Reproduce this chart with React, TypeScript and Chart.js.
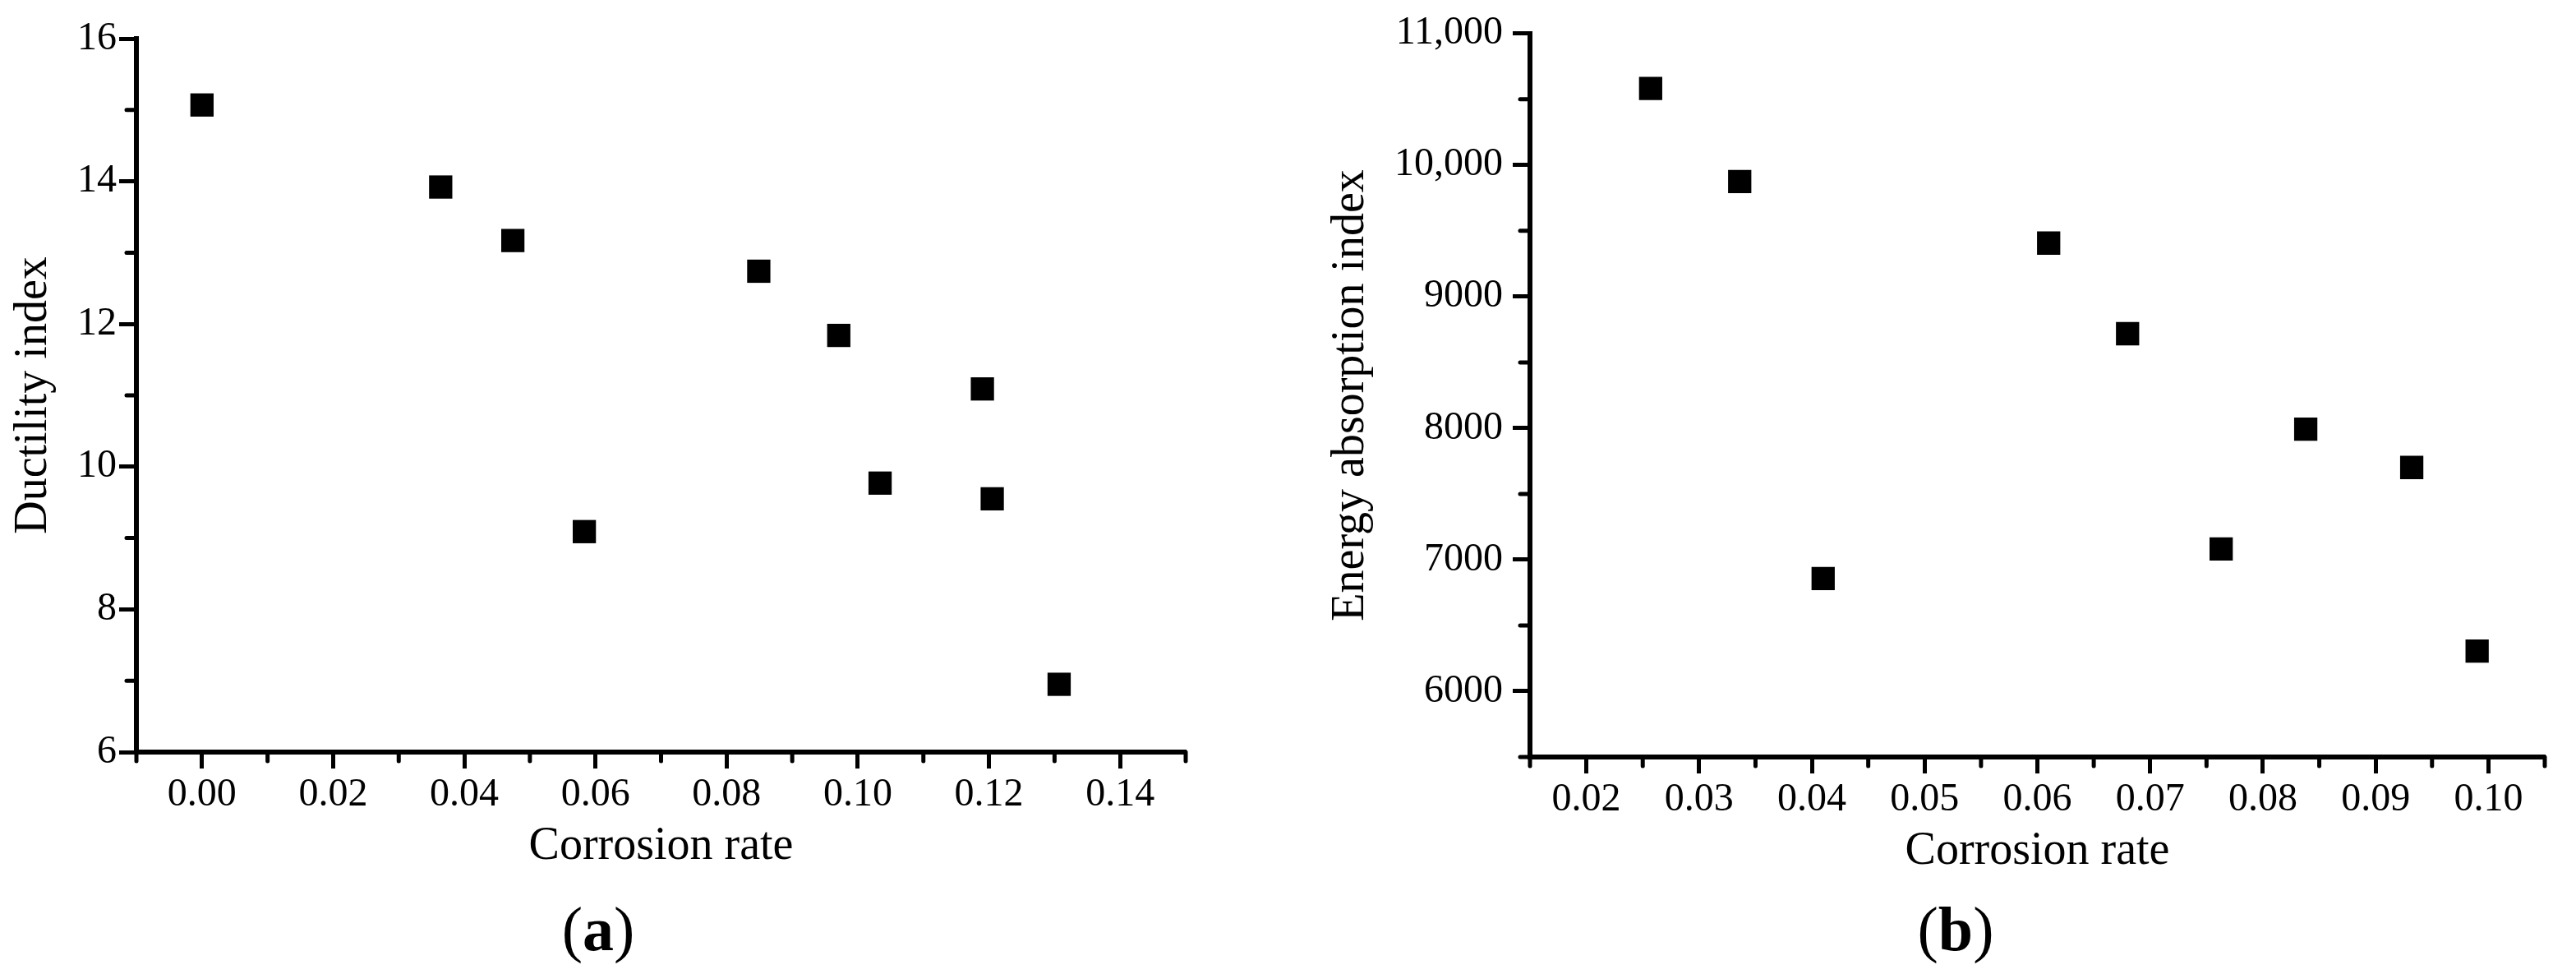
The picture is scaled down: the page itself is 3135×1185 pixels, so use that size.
import React, { useEffect, useRef } from "react";
import { Chart, registerables } from "chart.js";

Chart.register(...registerables);

// ---------- Data: panel (a) ----------
const rateA = [0, 0.0364, 0.0474, 0.0583, 0.0849, 0.0971, 0.1034, 0.119, 0.1205, 0.1307];
const ductility = [15.07, 13.92, 13.17, 9.09, 12.74, 11.84, 9.77, 11.09, 9.55, 6.95];
const xTicksA = [0, 0.02, 0.04, 0.06, 0.08, 0.1, 0.12, 0.14];
const xMinorA = [-0.01, 0.01, 0.03, 0.05, 0.07, 0.09, 0.11, 0.13, 0.15];
const yTicksA = [6, 8, 10, 12, 14, 16];
const yMinorA = [7, 9, 11, 13, 15];

// ---------- Data: panel (b) ----------
const rateB = [0.0257, 0.0336, 0.041, 0.061, 0.068, 0.0763, 0.0838, 0.0932, 0.099];
const energy = [10583, 9875, 6857, 9407, 8718, 7082, 7992, 7701, 6305];
const xTicksB = [0.02, 0.03, 0.04, 0.05, 0.06, 0.07, 0.08, 0.09, 0.1];
const xMinorB = [0.015, 0.025, 0.035, 0.045, 0.055, 0.065, 0.075, 0.085, 0.095, 0.105];
const yTicksB = [6000, 7000, 8000, 9000, 10000, 11000];
const yMinorB = [5500, 6500, 7500, 8500, 9500, 10500];

const FONT = "'Liberation Serif', 'Times New Roman', serif";

function minorPlugin(xs: number[], ys: number[]) {
  return {
    id: "minorTicks",
    afterDraw(chart: any) {
      const { ctx } = chart;
      const sx = chart.scales.x;
      const sy = chart.scales.y;
      ctx.save();
      ctx.strokeStyle = "#000";
      ctx.lineWidth = 5;
      ctx.lineCap = "round";
      for (const v of xs) {
        const px = sx.getPixelForValue(v);
        ctx.beginPath();
        ctx.moveTo(px, sx.top);
        ctx.lineTo(px, sx.top + 11);
        ctx.stroke();
      }
      for (const v of ys) {
        const py = sy.getPixelForValue(v);
        ctx.beginPath();
        ctx.moveTo(sy.right, py);
        ctx.lineTo(sy.right - 12, py);
        ctx.stroke();
      }
      ctx.restore();
    },
  };
}

interface PanelCfg {
  xs: number[];
  ys: number[];
  xMin: number;
  xMax: number;
  yMin: number;
  yMax: number;
  xTicks: number[];
  yTicks: number[];
  xMinor: number[];
  yMinor: number[];
  yLabel: string;
  yFmt: (v: number) => string;
  yAxisWidth: number;
  xAxisHeight: number;
  padTop: number;
  padRight: number;
  yTickPad: number;
  yTitlePad: number;
  xTitlePadBottom: number;
}

function Panel({ cfg, width, left }: { cfg: PanelCfg; width: number; left: number }) {
  const ref = useRef<HTMLCanvasElement>(null);
  useEffect(() => {
    if (!ref.current) return;
    const chart = new Chart(ref.current, {
      type: "scatter",
      data: {
        datasets: [
          {
            data: cfg.xs.map((x, i) => ({ x, y: cfg.ys[i] })),
            pointStyle: "rect",
            pointRadius: 20,
            pointHoverRadius: 20,
            backgroundColor: "#000",
            borderColor: "#000",
            borderWidth: 0,
          },
        ],
      },
      options: {
        responsive: false,
        animation: false,
        events: [],
        layout: { padding: { top: cfg.padTop, right: cfg.padRight, left: 0, bottom: 0 } },
        plugins: { legend: { display: false }, tooltip: { enabled: false } },
        scales: {
          x: {
            type: "linear",
            min: cfg.xMin,
            max: cfg.xMax,
            afterBuildTicks: (s: any) => {
              s.ticks = cfg.xTicks.map((v) => ({ value: v }));
            },
            afterFit: (s: any) => {
              s.height = cfg.xAxisHeight;
            },
            border: { display: true, color: "#000", width: 6 },
            grid: {
              display: true,
              drawOnChartArea: false,
              drawTicks: true,
              tickLength: 20,
              tickWidth: 5,
              tickColor: "#000",
            },
            ticks: {
              autoSkip: false,
              maxRotation: 0,
              padding: 4,
              color: "#000",
              font: { family: FONT, size: 48 },
              callback: (v: any) => Number(v).toFixed(2),
            },
            title: {
              display: true,
              text: "Corrosion rate",
              color: "#000",
              font: { family: FONT, size: 56 },
              padding: { top: 0, bottom: cfg.xTitlePadBottom },
            },
          },
          y: {
            type: "linear",
            min: cfg.yMin,
            max: cfg.yMax,
            afterBuildTicks: (s: any) => {
              s.ticks = cfg.yTicks.map((v) => ({ value: v }));
            },
            afterFit: (s: any) => {
              s.width = cfg.yAxisWidth;
            },
            border: { display: true, color: "#000", width: 6 },
            grid: {
              display: true,
              drawOnChartArea: false,
              drawTicks: true,
              tickLength: 21,
              tickWidth: 5,
              tickColor: "#000",
            },
            ticks: {
              autoSkip: false,
              padding: cfg.yTickPad,
              color: "#000",
              font: { family: FONT, size: 48 },
              callback: (v: any) => cfg.yFmt(Number(v)),
            },
            title: {
              display: true,
              text: cfg.yLabel,
              color: "#000",
              font: { family: FONT, size: 56 },
              padding: { top: cfg.yTitlePad, bottom: 0 },
            },
          },
        },
      },
      plugins: [minorPlugin(cfg.xMinor, cfg.yMinor)],
    } as any);
    return () => chart.destroy();
  }, [cfg]);
  return (
    <canvas
      ref={ref}
      width={width}
      height={1185}
      style={{ position: "absolute", left, top: 0, width, height: 1185 }}
    />
  );
}

const cfgA: PanelCfg = {
  xs: rateA,
  ys: ductility,
  xMin: -0.01,
  xMax: 0.15,
  yMin: 6,
  yMax: 16,
  xTicks: xTicksA,
  yTicks: yTicksA,
  xMinor: xMinorA,
  yMinor: yMinorA,
  yLabel: "Ductility index",
  yFmt: (v) => String(v),
  yAxisWidth: 166,
  xAxisHeight: 1185 - 915,
  padTop: 47,
  padRight: 1540 - 1443,
  yTickPad: 3,
  yTitlePad: 8,
  xTitlePadBottom: 121,
};

const cfgB: PanelCfg = {
  xs: rateB,
  ys: energy,
  xMin: 0.015,
  xMax: 0.105,
  yMin: 5500,
  yMax: 11000,
  xTicks: xTicksB,
  yTicks: yTicksB,
  xMinor: xMinorB,
  yMinor: yMinorB,
  yLabel: "Energy absorption index",
  yFmt: (v) => (v >= 10000 ? v.toLocaleString("en-US") : String(v)),
  yAxisWidth: 1862 - 1560,
  xAxisHeight: 1185 - 921,
  padTop: 33,
  padRight: 3135 - 3097,
  yTickPad: 12,
  yTitlePad: 51,
  xTitlePadBottom: 115,
};

const capStyle: React.CSSProperties = {
  position: "absolute",
  top: 1130,
  transform: "translate(-50%, -50%)",
  fontFamily: FONT,
  fontSize: 76,
  lineHeight: 1,
  color: "#000",
  whiteSpace: "nowrap",
};

export default function App() {
  useEffect(() => {
    document.body.style.margin = "0";
  }, []);
  return (
    <div style={{ position: "relative", width: 3135, height: 1185, background: "#fff", overflow: "hidden" }}>
      <Panel cfg={cfgA} width={1540} left={0} />
      <Panel cfg={cfgB} width={1575} left={1560} />
      <div style={{ ...capStyle, left: 728 }}>
        (<b>a</b>)
      </div>
      <div style={{ ...capStyle, left: 2380 }}>
        (<b>b</b>)
      </div>
    </div>
  );
}
